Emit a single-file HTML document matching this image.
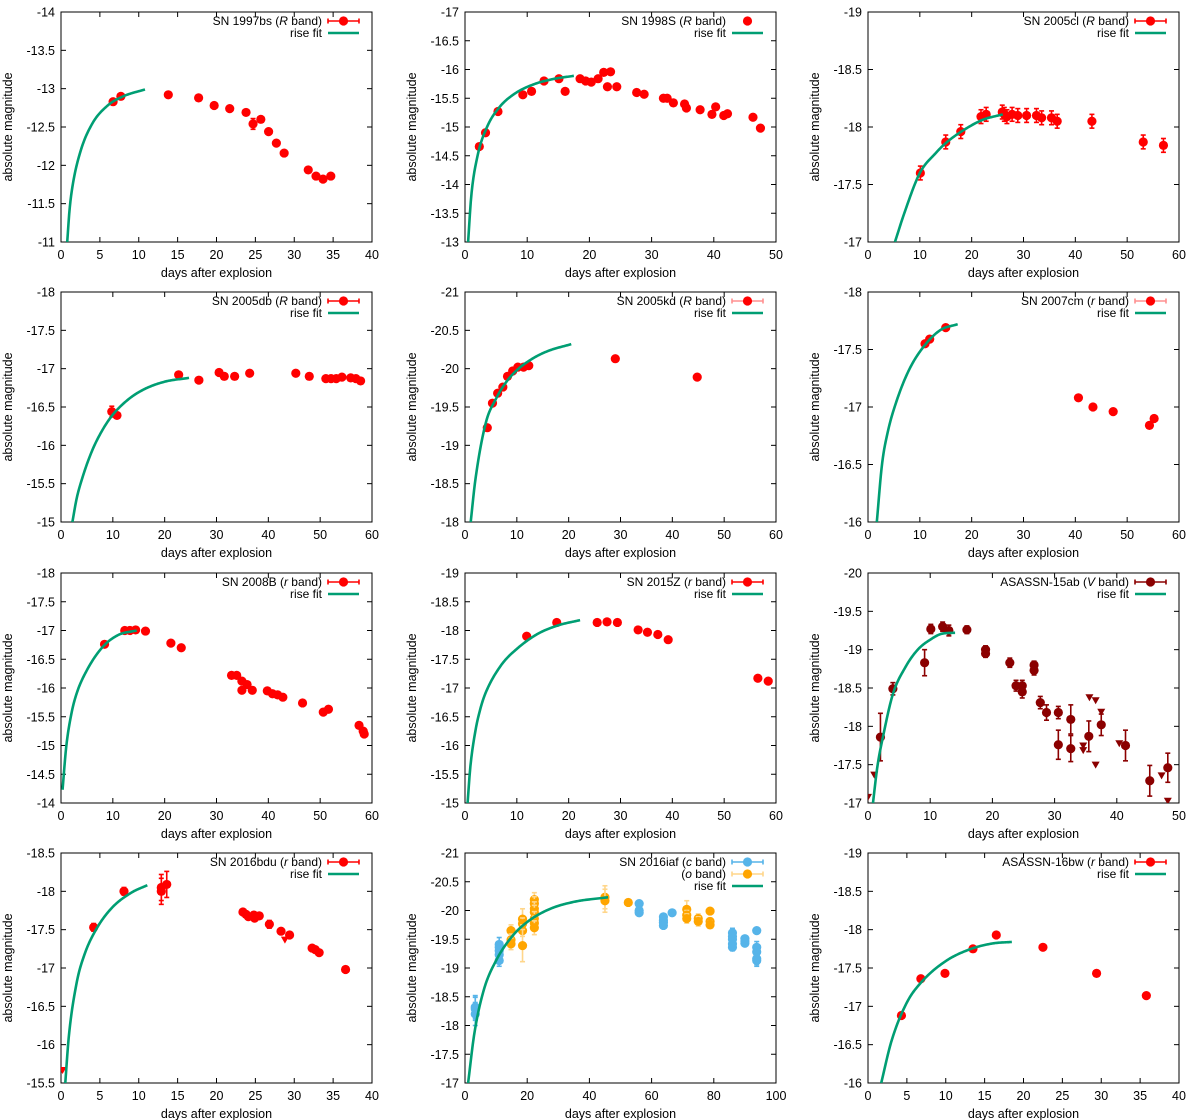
<!DOCTYPE html>
<html><head><meta charset="utf-8"><style>
html,body{margin:0;padding:0;background:#fff;}
svg{display:block;font-family:"Liberation Sans",sans-serif;}
</style></head><body>
<svg id="fig" width="1200" height="1120" viewBox="0 0 1200 1120"></svg>
<script>
// ---- Panel data (days after explosion, absolute magnitude, errors) ----
const p1t=[6.7,7.7,13.8,17.7,19.7,21.7,23.8,24.7,25.7,26.7,27.7,28.7,31.8,32.8,33.7,34.7];
const p1m=[-12.83,-12.9,-12.92,-12.88,-12.78,-12.74,-12.69,-12.54,-12.6,-12.44,-12.29,-12.16,-11.94,-11.86,-11.82,-11.86];
const p1e=[0,0,0,0,0,0,0,0.07,0,0,0,0,0,0,0,0];
const p1fitT=[0.8,1.1,1.5,2.5,4,6,8,10.8];
const p1fitM=[-11,-11.42,-11.74,-12.18,-12.54,-12.78,-12.9,-12.99];

const p2t=[2.3,3.3,5.3,9.3,10.7,12.7,15.1,16.1,18.5,19.4,20.3,21.4,22.3,22.9,23.4,24.4,27.6,28.8,31.9,32.5,33.5,35.3,35.6,37.8,39.7,40.3,41.6,42.2,46.3,47.5];
const p2m=[-14.66,-14.9,-15.27,-15.56,-15.62,-15.8,-15.84,-15.62,-15.84,-15.8,-15.78,-15.84,-15.95,-15.7,-15.96,-15.7,-15.6,-15.57,-15.5,-15.5,-15.42,-15.4,-15.33,-15.3,-15.22,-15.35,-15.2,-15.23,-15.17,-14.98];
const p2fitT=[0.5,1,2,3.5,5.5,8,11,14,17.5];
const p2fitM=[-13,-13.79,-14.49,-14.99,-15.34,-15.58,-15.74,-15.83,-15.89];

const p3t=[10.1,15,17.9,21.8,22.8,25.9,26.3,26.8,27.8,28.9,30.6,32.5,33.5,35.4,36.5,43.2,53.1,57];
const p3m=[-17.6,-17.87,-17.96,-18.09,-18.11,-18.13,-18.11,-18.09,-18.11,-18.1,-18.1,-18.1,-18.08,-18.08,-18.05,-18.05,-17.87,-17.84];
const p3e=[0.06,0.06,0.06,0.06,0.06,0.06,0.06,0.06,0.06,0.06,0.06,0.06,0.06,0.06,0.06,0.06,0.06,0.06];
const p3fitT=[5.2,7,10,13,15,18,22,26];
const p3fitM=[-17,-17.25,-17.6,-17.77,-17.86,-17.96,-18.06,-18.11];

const p4t=[9.8,10.8,22.7,26.6,30.5,31.5,33.5,36.4,45.3,47.9,51.1,52.1,53.1,54.2,55.9,56.9,57.8];
const p4m=[-16.44,-16.39,-16.92,-16.85,-16.95,-16.9,-16.9,-16.94,-16.94,-16.9,-16.87,-16.87,-16.87,-16.89,-16.88,-16.87,-16.84];
const p4e=[0.07,0,0,0,0,0,0,0,0,0.04,0,0,0,0,0,0,0];
const p4fitT=[2.2,3,4,6,8,10,13,16,20,24.7];
const p4fitM=[-15,-15.3,-15.55,-15.93,-16.2,-16.4,-16.6,-16.73,-16.83,-16.88];

const p5t=[4.3,5.3,6.3,7.3,8.2,9.2,10.2,11.3,12.3,29,44.8];
const p5m=[-19.23,-19.55,-19.68,-19.76,-19.9,-19.97,-20.02,-20.02,-20.04,-20.13,-19.89];
const p5fitT=[1.1,2,4,6,8,10,13,16,20.5];
const p5fitM=[-18,-18.55,-19.29,-19.61,-19.83,-19.98,-20.13,-20.23,-20.32];

const p6t=[11,11.9,15,40.6,43.4,47.3,54.3,55.2];
const p6m=[-17.55,-17.59,-17.69,-17.08,-17.0,-16.96,-16.84,-16.9];
const p6fitT=[1.7,2.7,3.8,5.5,8,11,14,17.3];
const p6fitM=[-16,-16.5,-16.78,-17.05,-17.33,-17.54,-17.67,-17.72];

const p7t=[8.4,12.3,13.3,14.4,16.3,21.2,23.2,32.9,33.9,34.9,34.9,35.9,36.9,39.8,40.8,41.8,42.8,46.6,50.6,51.6,57.5,58.3,58.5];
const p7m=[-16.76,-17.0,-17.0,-17.01,-16.99,-16.78,-16.7,-16.22,-16.22,-16.12,-15.96,-16.06,-15.96,-15.95,-15.9,-15.88,-15.84,-15.74,-15.58,-15.63,-15.35,-15.25,-15.2];
const p7fitT=[0.3,1,2,3,5,8,11,14.6];
const p7fitM=[-14.23,-14.97,-15.55,-15.9,-16.31,-16.71,-16.92,-17.0];

const p8t=[11.9,17.7,25.5,27.4,29.4,33.4,35.2,37.2,39.2,56.5,58.5];
const p8m=[-17.9,-18.14,-18.14,-18.15,-18.14,-18.01,-17.97,-17.93,-17.84,-17.17,-17.12];
const p8fitT=[0.5,1,2,3,4,7,10,14,18,22.2];
const p8fitM=[-15,-15.6,-16.25,-16.65,-16.92,-17.4,-17.68,-17.94,-18.09,-18.18];

const p9t=[2,4,9.1,10.1,12,13,15.9,18.9,18.9,22.8,23.8,24.8,24.8,26.7,26.7,27.7,28.7,30.6,30.6,32.6,32.6,35.5,37.5,41.4,45.3,48.2];
const p9m=[-17.86,-18.49,-18.83,-19.27,-19.3,-19.25,-19.26,-19.0,-18.95,-18.83,-18.53,-18.53,-18.45,-18.8,-18.73,-18.31,-18.18,-18.18,-17.76,-18.09,-17.71,-17.87,-18.02,-17.75,-17.29,-17.46];
const p9e=[0.31,0.08,0.17,0.06,0.06,0.07,0.05,0.05,0.05,0.06,0.07,0.07,0.08,0.05,0.06,0.08,0.1,0.08,0.19,0.19,0.17,0.2,0.14,0.2,0.2,0.19];
const p9ulT=[0,1,34.6,34.6,35.6,36.6,37.5,40.4,36.6,47.2,48.2];
const p9ulM=[-17.08,-17.37,-17.75,-17.69,-18.38,-18.34,-18.19,-17.78,-17.5,-17.36,-17.03];
const p9fitT=[0.8,1.5,2.5,4,6,8,10,12,14];
const p9fitM=[-17,-17.47,-17.9,-18.42,-18.77,-19.0,-19.13,-19.21,-19.22];

const p10t=[4.2,8.1,12.9,12.9,13.6,23.4,23.8,24.1,24.8,24.9,25.5,26.8,28.3,29.4,32.3,32.7,33.2,36.6];
const p10m=[-17.53,-18.0,-18.05,-18.0,-18.09,-17.73,-17.7,-17.67,-17.69,-17.65,-17.68,-17.57,-17.48,-17.43,-17.26,-17.24,-17.2,-16.98];
const p10e=[0.05,0.05,0.17,0.17,0.17,0.02,0.03,0.03,0.04,0.04,0.03,0.05,0.03,0.02,0.02,0.02,0.02,0.03];
const p10ulT=[0.2,28.8];
const p10ulM=[-15.67,-17.37];
const p10fitT=[0.55,1,2,3,4.5,6.5,9,11.1];
const p10fitM=[-15.5,-16.1,-16.8,-17.17,-17.5,-17.78,-17.98,-18.08];

const p11cT=[3.3,3.3,3.3,11,11,11,11,11,56,56,56,63.8,63.8,63.8,63.8,66.6,86,86,86,86,86,90,90,90,93.8,93.8,93.8,93.8,93.8];
const p11cM=[-18.32,-18.29,-18.2,-19.41,-19.36,-19.3,-19.23,-19.13,-20.12,-20.0,-19.96,-19.89,-19.83,-19.79,-19.74,-19.96,-19.61,-19.55,-19.5,-19.42,-19.36,-19.51,-19.47,-19.43,-19.65,-19.36,-19.28,-19.16,-19.13];
const p11cE=[0.2,0.2,0.2,0.12,0.1,0.1,0.1,0.1,0.05,0.05,0.05,0.05,0.05,0.05,0.05,0.04,0.08,0.06,0.06,0.06,0.06,0.05,0.05,0.05,0.05,0.1,0.1,0.1,0.1];
const p11oT=[14.8,14.8,14.8,18.5,18.5,18.5,18.5,22.3,22.3,22.3,22.3,22.3,22.3,22.3,45,45,52.5,71.3,71.3,71.3,75,75,78.8,78.8,78.8];
const p11oM=[-19.65,-19.49,-19.42,-19.85,-19.77,-19.65,-19.39,-20.19,-20.12,-20.03,-19.97,-19.86,-19.78,-19.7,-20.23,-20.17,-20.14,-20.02,-19.92,-19.86,-19.86,-19.81,-19.99,-19.81,-19.75];
const p11oE=[0.1,0.1,0.1,0.18,0.1,0.1,0.28,0.12,0.12,0.12,0.12,0.12,0.12,0.12,0.2,0.2,0.05,0.15,0.08,0.08,0.08,0.08,0.03,0.06,0.06];
const p11fitT=[1,3,6,10,15,20,27,35,46];
const p11fitM=[-17,-17.86,-18.61,-19.13,-19.54,-19.8,-20.02,-20.15,-20.23];

const p12t=[4.3,6.8,9.9,13.5,16.5,22.5,29.4,35.8];
const p12m=[-16.88,-17.36,-17.43,-17.75,-17.93,-17.77,-17.43,-17.14];
const p12fitT=[1.7,3,5,7,10,13,16,18.5];
const p12fitM=[-16,-16.54,-17.05,-17.33,-17.59,-17.74,-17.82,-17.84];

// ---- Layout ----
const colX=[61,465,868], rowY=[12,292,573,853], PW=311, PH=230;
const RED='#ff0000', DRED='#8b0000', GREEN='#009e73', BLUE='#56b4e9', ORANGE='#ffa500';
const NS='http://www.w3.org/2000/svg';
const fig=document.getElementById('fig');
function mk(tag,attrs,parent){const e=document.createElementNS(NS,tag);for(const k in attrs)e.setAttribute(k,attrs[k]);(parent||fig).appendChild(e);return e;}

const panels=[
 {id:'sn1997bs',c:0,r:0,xmax:40,xstep:5,ytop:-14,ybot:-11,pre:'SN 1997bs (',band:'R',series:[{t:p1t,m:p1m,e:p1e,col:RED}],fitT:p1fitT,fitM:p1fitM,leg:'bar'},
 {id:'sn1998s',c:1,r:0,xmax:50,xstep:10,ytop:-17,ybot:-13,pre:'SN 1998S (',band:'R',series:[{t:p2t,m:p2m,col:RED}],fitT:p2fitT,fitM:p2fitM,leg:'dot'},
 {id:'sn2005cl',c:2,r:0,xmax:60,xstep:10,ytop:-19,ybot:-17,pre:'SN 2005cl (',band:'R',series:[{t:p3t,m:p3m,e:p3e,col:RED}],fitT:p3fitT,fitM:p3fitM,leg:'bar'},
 {id:'sn2005db',c:0,r:1,xmax:60,xstep:10,ytop:-18,ybot:-15,pre:'SN 2005db (',band:'R',series:[{t:p4t,m:p4m,e:p4e,col:RED}],fitT:p4fitT,fitM:p4fitM,leg:'bar'},
 {id:'sn2005kd',c:1,r:1,xmax:60,xstep:10,ytop:-21,ybot:-18,pre:'SN 2005kd (',band:'R',series:[{t:p5t,m:p5m,col:RED}],fitT:p5fitT,fitM:p5fitM,leg:'light'},
 {id:'sn2007cm',c:2,r:1,xmax:60,xstep:10,ytop:-18,ybot:-16,pre:'SN 2007cm (',band:'r',series:[{t:p6t,m:p6m,col:RED}],fitT:p6fitT,fitM:p6fitM,leg:'light'},
 {id:'sn2008b',c:0,r:2,xmax:60,xstep:10,ytop:-18,ybot:-14,pre:'SN 2008B (',band:'r',series:[{t:p7t,m:p7m,col:RED}],fitT:p7fitT,fitM:p7fitM,leg:'bar'},
 {id:'sn2015z',c:1,r:2,xmax:60,xstep:10,ytop:-19,ybot:-15,pre:'SN 2015Z (',band:'r',series:[{t:p8t,m:p8m,col:RED}],fitT:p8fitT,fitM:p8fitM,leg:'bar'},
 {id:'asassn15ab',c:2,r:2,xmax:50,xstep:10,ytop:-20,ybot:-17,pre:'ASASSN-15ab (',band:'V',series:[{t:p9t,m:p9m,e:p9e,col:DRED,ulT:p9ulT,ulM:p9ulM}],fitT:p9fitT,fitM:p9fitM,leg:'bar',legCol:DRED},
 {id:'sn2016bdu',c:0,r:3,xmax:40,xstep:5,ytop:-18.5,ybot:-15.5,pre:'SN 2016bdu (',band:'r',series:[{t:p10t,m:p10m,e:p10e,col:RED,ulT:p10ulT,ulM:p10ulM}],fitT:p10fitT,fitM:p10fitM,leg:'bar'},
 {id:'sn2016iaf',c:1,r:3,xmax:100,xstep:20,ytop:-21,ybot:-17,pre:'SN 2016iaf (',band:'c',series:[{t:p11oT,m:p11oM,e:p11oE,col:ORANGE,ecol:'#ffd68a'},{t:p11cT,m:p11cM,e:p11cE,col:BLUE}],fitT:p11fitT,fitM:p11fitM,leg:'iaf'},
 {id:'asassn16bw',c:2,r:3,xmax:40,xstep:5,ytop:-19,ybot:-16,pre:'ASASSN-16bw (',band:'r',series:[{t:p12t,m:p12m,col:RED}],fitT:p12fitT,fitM:p12fitM,leg:'bar'}
];

function fmt(v){return String(Math.round(v*10)/10);}

// monotone cubic (Fritsch-Carlson) interpolation in data space
function monotone(xs,ys){
  const n=xs.length, d=[], m=new Array(n);
  for(let i=0;i<n-1;i++) d.push((ys[i+1]-ys[i])/(xs[i+1]-xs[i]));
  m[0]=d[0]; m[n-1]=d[n-2];
  for(let i=1;i<n-1;i++) m[i]=(d[i-1]*d[i]<=0)?0:(d[i-1]+d[i])/2;
  for(let i=0;i<n-1;i++){
    if(d[i]===0){m[i]=0;m[i+1]=0;continue;}
    const a=m[i]/d[i], b=m[i+1]/d[i], s=a*a+b*b;
    if(s>9){const tt=3/Math.sqrt(s);m[i]=tt*a*d[i];m[i+1]=tt*b*d[i];}
  }
  return function(x){
    let i=0; while(i<n-2 && x>xs[i+1]) i++;
    const h=xs[i+1]-xs[i], t=(x-xs[i])/h, t2=t*t, t3=t2*t;
    return (2*t3-3*t2+1)*ys[i]+(t3-2*t2+t)*h*m[i]+(-2*t3+3*t2)*ys[i+1]+(t3-t2)*h*m[i+1];
  };
}

panels.forEach(P=>{
  const x0=colX[P.c], y0=rowY[P.r];
  const sx=t=>x0+t/P.xmax*PW;
  const sy=m=>y0+(m-P.ytop)/(P.ybot-P.ytop)*PH;
  const g=mk('g',{});
  
  
  const cp=mk('clipPath',{id:'clip-'+P.id},g);
  mk('rect',{x:x0,y:y0,width:PW,height:PH},cp);
  const fr=mk('rect',{x:x0,y:y0,width:PW,height:PH,fill:'none',stroke:'#000','stroke-width':1},g);
  
  
  const xa=mk('g',{},g);
  
  
  for(let v=0;v<=P.xmax+1e-9;v+=P.xstep){
    const x=sx(v);
    mk('line',{x1:x,y1:y0+PH,x2:x,y2:y0+PH-5,stroke:'#000','stroke-width':1},xa);
    mk('line',{x1:x,y1:y0,x2:x,y2:y0+5,stroke:'#000','stroke-width':1},xa);
    const tl=mk('text',{x:x,y:y0+PH+17,'text-anchor':'middle','font-size':'12.5'},xa);
    tl.textContent=fmt(v);
    
    
  }
  const xt=mk('text',{x:x0+PW/2,y:y0+PH+35,'text-anchor':'middle','font-size':'12.5'},g);
  xt.textContent='days after explosion';
  
  
  const ya=mk('g',{},g);
  
  
  const n=Math.round((P.ybot-P.ytop)/0.5);
  for(let i=0;i<=n;i++){
    const v=P.ytop+i*0.5, y=sy(v);
    mk('line',{x1:x0,y1:y,x2:x0+5,y2:y,stroke:'#000','stroke-width':1},ya);
    mk('line',{x1:x0+PW,y1:y,x2:x0+PW-5,y2:y,stroke:'#000','stroke-width':1},ya);
    const tl=mk('text',{x:x0-6,y:y+4.5,'text-anchor':'end','font-size':'12.5'},ya);
    tl.textContent=fmt(v);
    
    
  }
  const yt=mk('text',{x:0,y:0,'text-anchor':'middle','font-size':'12.5',transform:'translate('+(x0-49)+','+(y0+PH/2)+') rotate(-90)'},g);
  yt.textContent='absolute magnitude';
  
  

  const plot=mk('g',{'clip-path':'url(#clip-'+P.id+')'},g);
  
  
  P.series.forEach((S,si)=>{
    const sg=mk('g',{},plot);
    
    
    const ecol=S.ecol||S.col;
    for(let i=0;i<S.t.length;i++){
      const x=sx(S.t[i]), y=sy(S.m[i]);
      const er=S.e?S.e[i]:0;
      if(er>0){
        const ya1=sy(S.m[i]-er), ya2=sy(S.m[i]+er);
        mk('line',{x1:x,y1:ya1,x2:x,y2:ya2,stroke:ecol,'stroke-width':1.6},sg);
        mk('line',{x1:x-2.5,y1:ya1,x2:x+2.5,y2:ya1,stroke:ecol,'stroke-width':1.6},sg);
        mk('line',{x1:x-2.5,y1:ya2,x2:x+2.5,y2:ya2,stroke:ecol,'stroke-width':1.6},sg);
      }
      const c=mk('circle',{cx:x,cy:y,r:4.6,fill:S.col},sg);
      
      
    }
    if(S.ulT){
      for(let i=0;i<S.ulT.length;i++){
        const x=sx(S.ulT[i]), y=sy(S.ulM[i]);
        const tri=mk('polygon',{points:(x-4)+','+(y-3)+' '+(x+4)+','+(y-3)+' '+x+','+(y+4),fill:S.col},sg);
        
        
      }
    }
  });
  const f=monotone(P.fitT,P.fitM);
  const tA=P.fitT[0], tB=P.fitT[P.fitT.length-1];
  let d='';
  for(let k=0;k<=120;k++){
    const t=tA+(tB-tA)*k/120;
    d+=(k?' L':'M')+sx(t).toFixed(2)+','+sy(f(t)).toFixed(2);
  }
  const fit=mk('path',{d:d,fill:'none',stroke:GREEN,'stroke-width':2.6,'stroke-linejoin':'round'},plot);
  
  

  const lg=mk('g',{},g);
  
  
  const tx=x0+PW-50, sx1=x0+PW-44, sx2=x0+PW-13, smid=(sx1+sx2)/2;
  function legText(y,pre,band,post){
    const t=mk('text',{x:tx,y:y+4,'text-anchor':'end','font-size':'12'},lg);
    const a=mk('tspan',{},t);a.textContent=pre;
    if(band){const b=mk('tspan',{'font-style':'italic'},t);b.textContent=band;}
    const c=mk('tspan',{},t);c.textContent=post;
    
    
    return t;
  }
  function legSample(y,col,lineCol,mode){
    if(mode!=='dot'){
      mk('line',{x1:sx1,y1:y,x2:sx2,y2:y,stroke:lineCol,'stroke-width':1.6},lg);
      mk('line',{x1:sx1,y1:y-2.5,x2:sx1,y2:y+2.5,stroke:lineCol,'stroke-width':1.6},lg);
      mk('line',{x1:sx2,y1:y-2.5,x2:sx2,y2:y+2.5,stroke:lineCol,'stroke-width':1.6},lg);
    }
    mk('circle',{cx:smid,cy:y,r:4.6,fill:col},lg);
  }
  let ly=y0+9;
  if(P.leg==='iaf'){
    legText(ly,'SN 2016iaf (','c',' band)');legSample(ly,BLUE,BLUE,'bar');ly+=12;
    legText(ly,'(','o',' band)');legSample(ly,ORANGE,'#ffd68a','bar');ly+=12;
  } else {
    legText(ly,P.pre,P.band,' band)');
    const col=P.legCol||RED;
    legSample(ly,col,P.leg==='light'?'#ff9090':col,P.leg);
    ly+=12;
  }
  legText(ly,'rise fit','','');
  mk('line',{x1:sx1,y1:ly,x2:sx2,y2:ly,stroke:GREEN,'stroke-width':2.6},lg);
});
</script>
</body></html>
